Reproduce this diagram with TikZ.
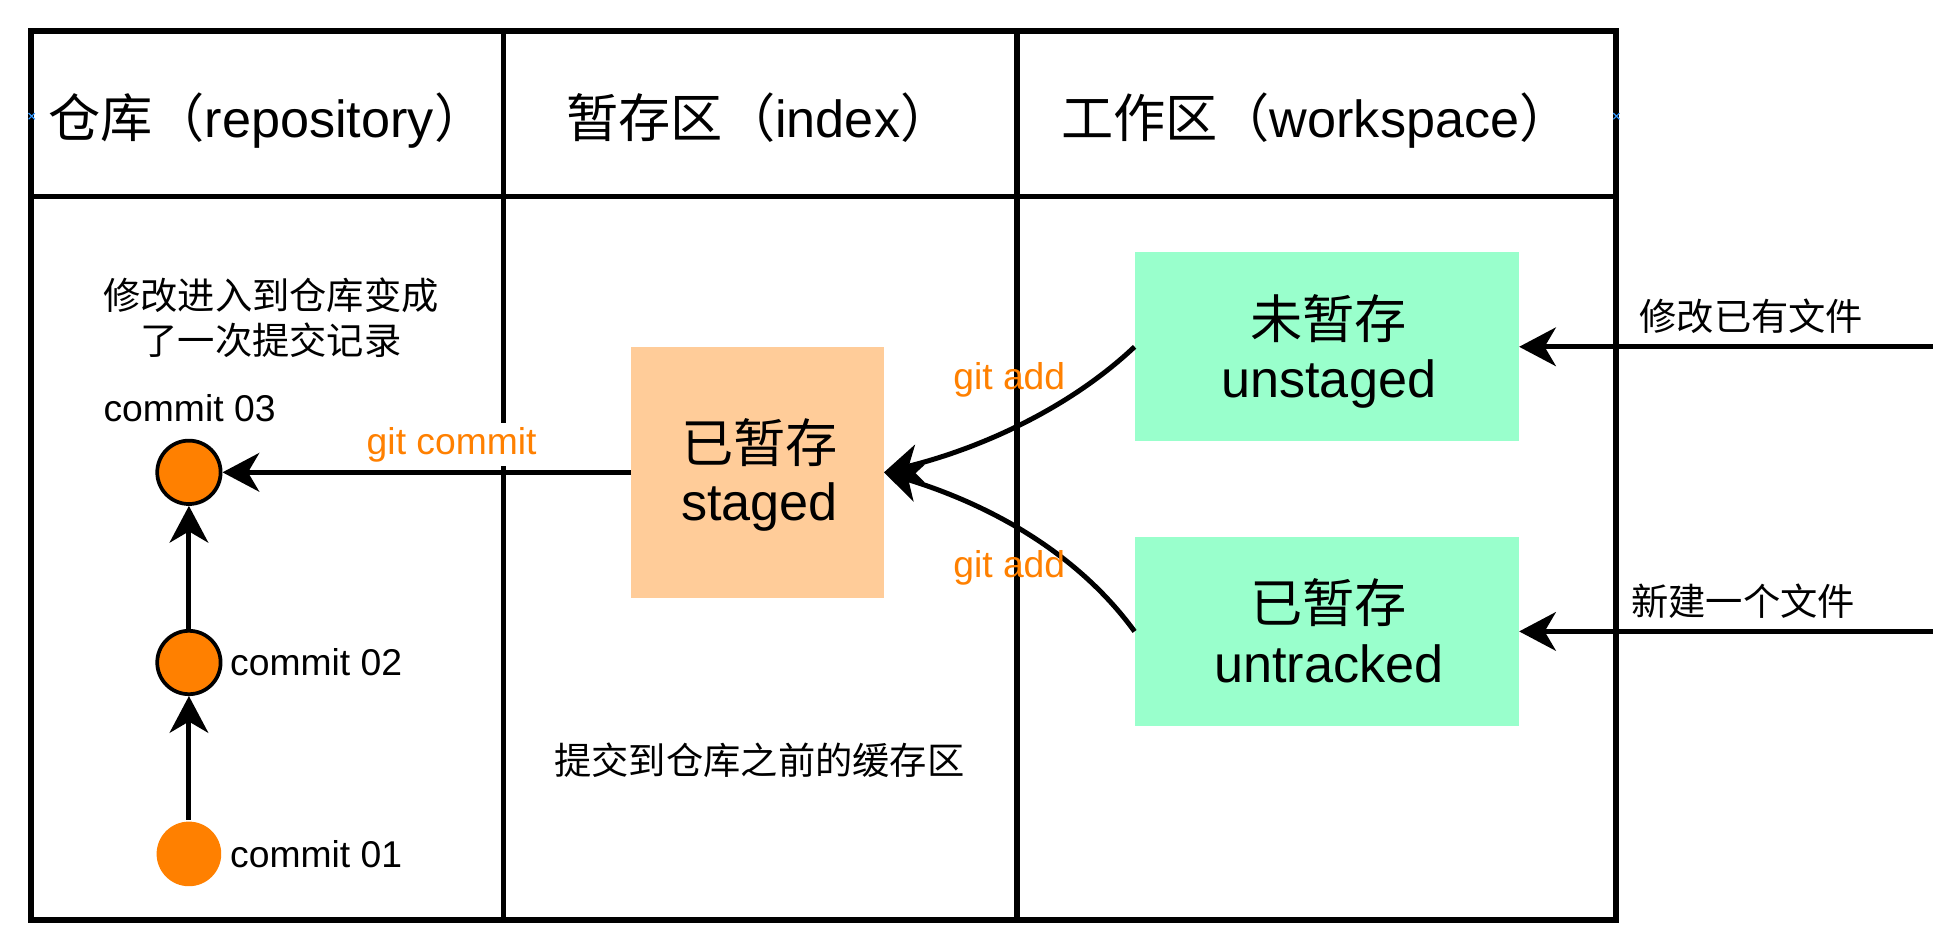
\documentclass[tikz,border=0pt]{standalone}
\usepackage{fontspec}
\setmainfont{Liberation Sans}
\newfontfamily\cjk{Noto Sans CJK SC}
\usetikzlibrary{arrows.meta}
\definecolor{gitorange}{HTML}{FF8000}
\definecolor{stagedfill}{HTML}{FFCC99}
\definecolor{wsfill}{HTML}{99FFCC}
\definecolor{markblue}{HTML}{3399FF}
\begin{document}
\begin{tikzpicture}[x=1pt,y=-1pt,
  tableline/.style={line width=4.5pt},
  arr/.style={line width=4pt,-{Stealth[length=29.5pt,width=31pt,inset=9pt]}},
  commitdot/.style={circle,fill=gitorange,inner sep=0pt,line width=3pt},
  wsbox/.style={rectangle,fill=wsfill,inner sep=0pt,minimum width=309pt,minimum height=152pt},
  stbox/.style={rectangle,fill=stagedfill,inner sep=0pt,minimum width=203pt,minimum height=202pt},
  bigtxt/.style={font=\fontsize{42}{48}\selectfont,inner sep=0pt,anchor=base},
  smalltxt/.style={font=\fontsize{30}{36}\selectfont,inner sep=0pt,anchor=base},
  orangetxt/.style={smalltxt,text=gitorange},
  bluemark/.style={markblue,line width=0.9pt}]
\useasboundingbox (0,0) rectangle (1560,750.6);

% table
\draw[tableline] (25,25) rectangle (1300,740);
\draw[tableline] (25,158) -- (1300,158);
\draw[tableline] (405,25) -- (405,740);
\draw[tableline] (818,25) -- (818,740);

% small blue markers
\draw[bluemark] (23,91) -- (28,96) (23,96) -- (28,91);
\draw[bluemark] (1298,91) -- (1303,96) (1298,96) -- (1303,91);

% headers
\node[bigtxt] (h1) at (215,111) {{\cjk 仓库（}repository{\cjk ）}};
\node[bigtxt] (h2) at (611,111) {{\cjk 暂存区（}index{\cjk ）}};
\node[bigtxt] (h3) at (1059,111) {{\cjk 工作区（}workspace{\cjk ）}};

% boxes
\node[stbox] (staged) at (609.5,380) {};
\node[wsbox] (unstaged) at (1067.5,279) {};
\node[wsbox] (untracked) at (1067.5,508) {};

\node[bigtxt] (st1) at (611,372) {\cjk 已暂存};
\node[bigtxt] (st2) at (611,419) {staged};
\node[bigtxt] (us1) at (1069,272) {\cjk 未暂存};
\node[bigtxt] (us2) at (1069,320) {unstaged};
\node[bigtxt] (ut1) at (1069,500.5) {\cjk 已暂存};
\node[bigtxt] (ut2) at (1069,549) {untracked};

% commits
\node[commitdot,draw,minimum size=51pt] (c3) at (152,380) {};
\node[commitdot,draw,minimum size=51pt] (c2) at (152,533) {};
\node[commitdot,minimum size=52pt] (c1) at (152,687) {};

\node[smalltxt] (l3) at (152.5,339.5) {commit 03};
\node[smalltxt,anchor=base west] (l2) at (185,543.5) {commit 02};
\node[smalltxt,anchor=base west] (l1) at (185,697.7) {commit 01};

% descriptions
\node[smalltxt] (d1) at (218,249) {\cjk 修改进入到仓库变成};
\node[smalltxt] (d2) at (218,285) {\cjk 了一次提交记录};
\node[smalltxt] (d3) at (611,623) {\cjk 提交到仓库之前的缓存区};

% connectors
\coordinate (m1) at (1555,279);
\coordinate (m2) at (1555,508);
\draw[arr] (c1) -- (c2);
\draw[arr] (c2) -- (c3);
\draw[arr] (staged) -- (c3);
\draw[arr] (m1) -- (unstaged);
\draw[arr] (m2) -- (untracked);
\draw[arr] (unstaged.west) .. controls (861.6,327.3) and (791.6,360) .. (staged.east);
\draw[arr] (untracked.west) .. controls (864,441) and (790,404) .. (staged.east);

% connector labels
\node[orangetxt,fill=white,inner xsep=2pt,inner ysep=3.5pt] (gc) at (363.4,365.3) {git commit};
\node[orangetxt] (ga1) at (812,313.4) {git add};
\node[orangetxt] (ga2) at (812,465) {git add};
\node[smalltxt] (f1) at (1409,266) {\cjk 修改已有文件};
\node[smalltxt] (f2) at (1402.5,495) {\cjk 新建一个文件};
\end{tikzpicture}
\end{document}
